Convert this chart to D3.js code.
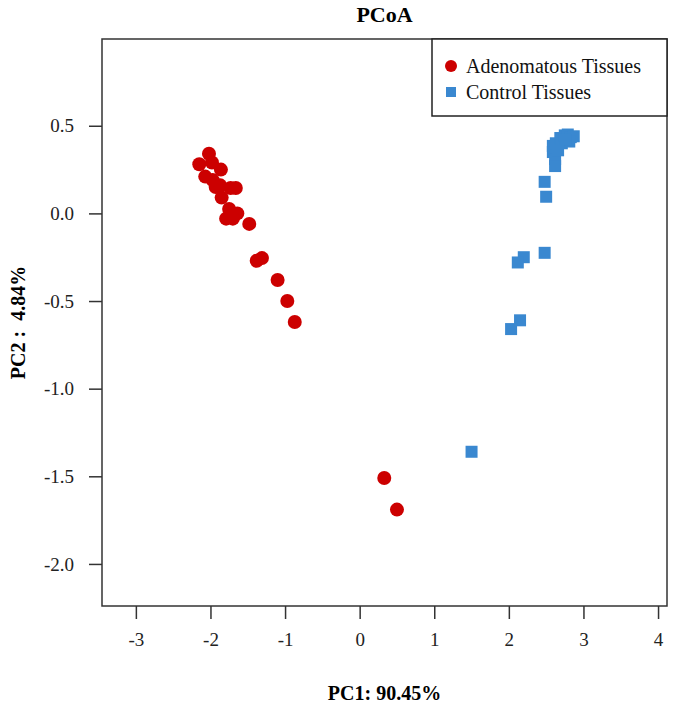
<!DOCTYPE html>
<html lang="en">
<head>
<meta charset="UTF-8">
<title>PCoA</title>
<script src="https://d3js.org/d3.v7.min.js"></script>
<style>
body { margin: 0; background: #fff; }
svg text { font-family: "Liberation Serif", "Times New Roman", serif; }
</style>
</head>
<body>
<svg width="675" height="709"></svg>
<script>
// data
const adenomaX = [-2.15, -2.02, -1.98, -2.07, -1.97, -1.86, -1.93, -1.87, -1.85, -1.73, -1.66,
                  -1.75, -1.64, -1.79, -1.70, -1.48, -1.38, -1.31, -1.10, -0.97, -0.87, 0.33, 0.50];
const adenomaY = [0.28, 0.34, 0.29, 0.21, 0.19, 0.25, 0.15, 0.16, 0.09, 0.145, 0.145,
                  0.025, 0.00, -0.03, -0.03, -0.06, -0.27, -0.255, -0.38, -0.50, -0.62, -1.51, -1.69];
const controlX = [2.59, 2.59, 2.62, 2.62, 2.63, 2.69, 2.71, 2.75, 2.79, 2.83, 2.87, 2.81, 2.76, 2.66,
                  2.48, 2.50, 2.20, 2.12, 2.48, 2.15, 2.03, 1.50];
const controlY = [0.385, 0.35, 0.31, 0.27, 0.40, 0.43, 0.40, 0.445, 0.45, 0.435, 0.44, 0.41, 0.42, 0.36,
                  0.18, 0.095, -0.25, -0.28, -0.225, -0.61, -0.66, -1.36];
const xTicks = [-3, -2, -1, 0, 1, 2, 3, 4];
const yTicks = [0.5, 0.0, -0.5, -1.0, -1.5, -2.0];
const groups = ["Adenomatous Tissues", "Control Tissues"];
const colors = ["#cc0000", "#3a88d0"];

const serif = "'Liberation Serif', 'Times New Roman', serif";
const svg = d3.select("svg");
const box = { left: 102, right: 667, top: 39, bottom: 606 };

const x = d3.scaleLinear().domain([-3.454, 4.12]).range([box.left, box.right]);
const y = d3.scaleLinear().domain([-2.24, 0.995]).range([box.bottom, box.top]);

// axes (plain hyphen minus like the R original)
const xAxis = svg.append("g")
    .attr("transform", "translate(0," + box.bottom + ")")
    .call(d3.axisBottom(x).tickValues(xTicks).tickSize(13).tickPadding(10)
      .tickFormat(function(d) { return String(d); }));
const yAxis = svg.append("g")
    .attr("transform", "translate(" + box.left + ",0)")
    .call(d3.axisLeft(y).tickValues(yTicks).tickSize(13).tickPadding(15)
      .tickFormat(function(d) { return d.toFixed(1); }));

[xAxis, yAxis].forEach(function(a) {
  a.attr("font-family", serif).attr("font-size", 19);
  a.select(".domain").remove();
  a.selectAll("line").attr("stroke", "#333").attr("stroke-width", 1.5);
  a.selectAll("text").style("font-family", serif).style("font-size", "19px").attr("fill", "#222");
});
xAxis.selectAll("text").attr("dy", "0.9em");

// plot frame
svg.append("rect")
    .attr("x", box.left).attr("y", box.top)
    .attr("width", box.right - box.left).attr("height", box.bottom - box.top)
    .attr("fill", "none").attr("stroke", "#333").attr("stroke-width", 1.5);

// points
svg.append("g").selectAll("circle")
  .data(d3.zip(adenomaX, adenomaY))
  .enter().append("circle")
    .attr("cx", function(d) { return x(d[0]); })
    .attr("cy", function(d) { return y(d[1]); })
    .attr("r", 7)
    .attr("fill", colors[0]);

const sq = 12;
svg.append("g").selectAll("rect")
  .data(d3.zip(controlX, controlY))
  .enter().append("rect")
    .attr("x", function(d) { return x(d[0]) - sq / 2; })
    .attr("y", function(d) { return y(d[1]) - sq / 2; })
    .attr("width", sq).attr("height", sq)
    .attr("fill", colors[1]);

// legend
const leg = svg.append("g");
leg.append("rect")
    .attr("x", 432).attr("y", box.top)
    .attr("width", box.right - 432).attr("height", 77)
    .attr("fill", "#fff").attr("stroke", "#222").attr("stroke-width", 1.5);
leg.append("circle").attr("cx", 451).attr("cy", 66).attr("r", 6).attr("fill", colors[0]);
leg.append("rect").attr("x", 446).attr("y", 87).attr("width", 10).attr("height", 10).attr("fill", colors[1]);
leg.selectAll("text")
  .data(groups)
  .enter().append("text")
    .attr("x", 466)
    .attr("y", function(d, i) { return 66 + i * 26; })
    .attr("dy", "0.35em")
    .attr("font-size", 20)
    .attr("fill", "#111")
    .text(function(d) { return d; });

// titles
svg.append("text")
    .attr("x", (box.left + box.right) / 2).attr("y", 14).attr("dy", "0.35em")
    .attr("text-anchor", "middle").attr("font-size", 22).attr("font-weight", "bold")
    .text("PCoA");
svg.append("text")
    .attr("x", (box.left + box.right) / 2).attr("y", 693).attr("dy", "0.35em")
    .attr("text-anchor", "middle").attr("font-size", 20).attr("font-weight", "bold")
    .text("PC1: 90.45%");
svg.append("text")
    .attr("transform", "translate(18," + (box.top + box.bottom) / 2 + ") rotate(-90)")
    .attr("dy", "0.35em")
    .attr("text-anchor", "middle").attr("font-size", 20).attr("font-weight", "bold")
    .attr("xml:space", "preserve")
    .text("PC2 :  4.84%");
</script>
</body>
</html>
